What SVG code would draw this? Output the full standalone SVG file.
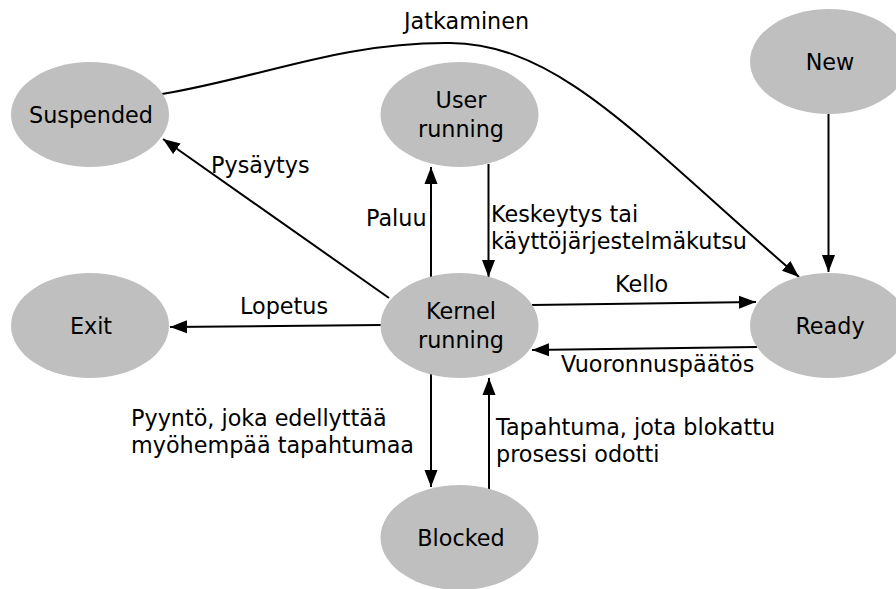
<svg xmlns="http://www.w3.org/2000/svg" width="896" height="589" viewBox="0 0 896 589">
<style>
.node ellipse{fill:#bfbfbf;stroke:none}
text{font-family:"DejaVu Sans","Noto Sans",sans-serif;font-size:22.3px;fill:#000}
.c{text-anchor:middle}
.edge{fill:none;stroke:#000;stroke-width:2;marker-end:url(#ah)}
</style>
<defs>
<marker id="ah" markerUnits="userSpaceOnUse" markerWidth="18" markerHeight="14" refX="17" refY="6.5" orient="auto" viewBox="0 0 18 13">
<path d="M0,0 L17,6.5 L0,13 z" fill="#000"/>
</marker>
</defs>
<g id="edges">
<path class="edge" d="M162,94 C260,78 340,42 450,43 C560,44 640,140 799,277"/>
<path class="edge" d="M389,298 L163,139"/>
<path class="edge" d="M431,277 L431,167"/>
<path class="edge" d="M488.5,164 L488.5,277"/>
<path class="edge" d="M532,305 L756,302"/>
<path class="edge" d="M757,347 L532,350"/>
<path class="edge" d="M381,325 L170,327"/>
<path class="edge" d="M431,374 L431,487"/>
<path class="edge" d="M489,489 L489,378"/>
<path class="edge" d="M828.5,114 L828.5,272"/>
<text x="404" y="29">Jatkaminen</text>
<text x="211" y="173">Pysäytys</text>
<text x="366" y="226">Paluu</text>
<text x="491" y="222">Keskeytys tai</text>
<text x="491" y="249">käyttöjärjestelmäkutsu</text>
<text x="615" y="292">Kello</text>
<text x="561" y="372">Vuoronnuspäätös</text>
<text x="240" y="314">Lopetus</text>
<text x="131" y="426">Pyyntö, joka edellyttää</text>
<text x="131" y="453">myöhempää tapahtumaa</text>
<text x="496" y="435">Tapahtuma, jota blokattu</text>
<text x="496" y="462">prosessi odotti</text>
</g>
<g id="suspended" class="node"><ellipse cx="90" cy="114.5" rx="79" ry="52.5"/><text class="c" x="91" y="122.5">Suspended</text></g>
<g id="user-running" class="node"><ellipse cx="459.5" cy="114.5" rx="79" ry="52.5"/><text class="c" x="461" y="108">User</text><text class="c" x="461" y="137">running</text></g>
<g id="new" class="node"><ellipse cx="829" cy="61.5" rx="79" ry="52.5"/><text class="c" x="830" y="69.5">New</text></g>
<g id="exit" class="node"><ellipse cx="90" cy="325.5" rx="79" ry="52.5"/><text class="c" x="91" y="333.5">Exit</text></g>
<g id="kernel-running" class="node"><ellipse cx="459.5" cy="325.5" rx="79" ry="52.5"/><text class="c" x="461" y="319">Kernel</text><text class="c" x="461" y="348">running</text></g>
<g id="ready" class="node"><ellipse cx="829" cy="325.5" rx="79" ry="52.5"/><text class="c" x="830" y="333.5">Ready</text></g>
<g id="blocked" class="node"><ellipse cx="459.5" cy="537.5" rx="79" ry="52.5"/><text class="c" x="461" y="545.5">Blocked</text></g>
</svg>
